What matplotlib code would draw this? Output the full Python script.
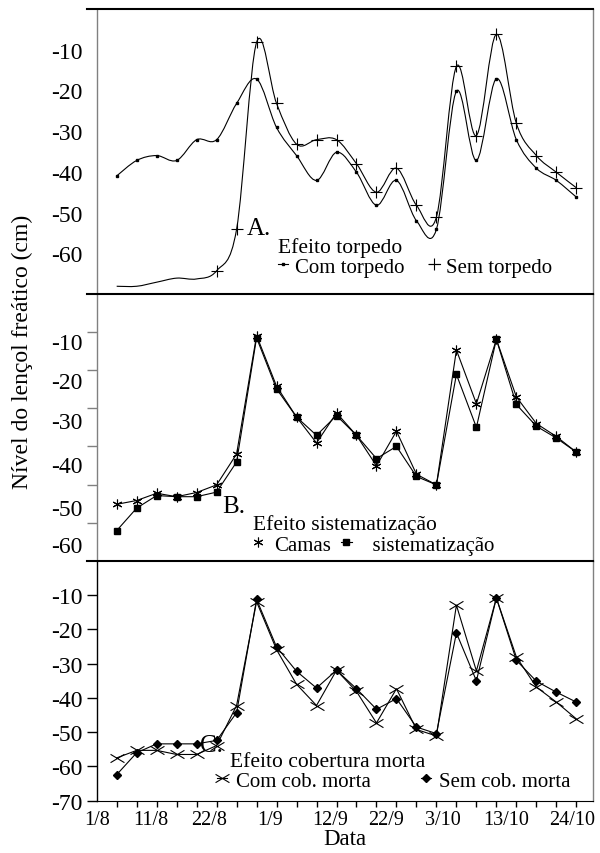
import numpy as np
import matplotlib.pyplot as plt
from matplotlib.path import Path
from matplotlib.patches import PathPatch
from matplotlib.lines import Line2D

plt.rcParams['font.family'] = ['Liberation Serif', 'DejaVu Serif']
plt.rcParams['axes.unicode_minus'] = False

# leituras (uma a cada ~3,6 dias), a partir de 1/8
leituras = np.arange(1, 25)
datas = ['1/8', '11/8', '22/8', '1/9', '12/9', '22/9', '3/10', '13/10', '24/10']
pos_datas = [0, 2.7, 5.6, 8.7, 11.7, 14.5, 17.3, 20.5, 23.8]

# A. efeito torpedo
com_torpedo = [-41.0, -37.2, -36.0, -37.2, -32.1, -32.1, -23.2, -17.2, -29.1, -36.0,
               -42.1, -35.2, -40.1, -48.2, -42.1, -52.0, -54.1, -20.2, -37.2, -17.1,
               -32.1, -39.1, -42.1, -46.2]
sem_torpedo = [-68.1, -68.1, -67.1, -66.1, -66.3, -64.3, -54.1, -8.2, -23.2, -33.2,
               -32.1, -32.1, -38.0, -45.0, -39.1, -48.2, -51.1, -14.1, -31.1, -6.2,
               -28.1, -36.0, -40.1, -43.9]

# B. efeito sistematizacao
camas = [-55.2, -54.2, -52.3, -53.2, -52.1, -50.1, -42.0, -10.9, -24.2, -32.3,
         -39.1, -31.2, -37.1, -45.1, -36.0, -47.3, -50.1, -14.7, -28.8, -11.9,
         -27.0, -34.0, -37.4, -41.5]
sistematizacao = [-62.1, -56.2, -52.9, -53.2, -53.2, -52.0, -44.1, -11.5, -24.9, -32.3,
                  -37.1, -31.9, -37.1, -43.2, -40.0, -47.9, -50.1, -21.1, -35.0, -11.9,
                  -29.0, -34.7, -37.8, -41.5]

# C. efeito cobertura morta
com_cob = [-57.5, -55.3, -55.3, -56.5, -56.5, -53.9, -42.2, -11.9, -25.9, -36.0,
           -42.2, -31.9, -38.1, -47.3, -37.3, -49.2, -51.1, -12.9, -32.1, -10.8,
           -28.0, -36.8, -41.2, -46.1]
sem_cob = [-62.4, -56.0, -53.4, -53.4, -53.4, -52.4, -44.3, -11.2, -25.1, -32.2,
           -37.1, -31.9, -37.3, -43.3, -40.2, -48.5, -50.4, -21.0, -35.0, -10.8,
           -29.0, -35.1, -38.3, -41.2]

yticks = [-10, -20, -30, -40, -50, -60]
# rotulos do painel B ficam um pouco abaixo das marcas no original
pos_rot_b = [-12.4, -22.6, -33.2, -44.5, -55.9, -65.5]

cinza = '#808080'
lw = 0.8


def curva_suave(ax, x, y):
    # linha suavizada (tipo Excel) com segmentos Bezier
    x = np.asarray(x, float)
    y = np.asarray(y, float)
    px = np.r_[x[0], x, x[-1]]
    py = np.r_[y[0], y, y[-1]]
    verts = [(x[0], y[0])]
    codes = [Path.MOVETO]
    for i in range(1, len(px) - 2):
        c1 = (px[i] + (px[i + 1] - px[i - 1]) / 6, py[i] + (py[i + 1] - py[i - 1]) / 6)
        c2 = (px[i + 1] - (px[i + 2] - px[i]) / 6, py[i + 1] - (py[i + 2] - py[i]) / 6)
        verts += [c1, c2, (px[i + 1], py[i + 1])]
        codes += [Path.CURVE4] * 3
    ax.add_patch(PathPatch(Path(verts, codes), fc='none', ec='k', lw=lw))


marcador_x = Path([(-1, -0.6), (1, 0.6), (-1, 0.6), (1, -0.6)],
                  [Path.MOVETO, Path.LINETO, Path.MOVETO, Path.LINETO])

fig = plt.figure(figsize=(6, 8.54), dpi=100)
W, H = 600, 854
esq, dir_ = 96.7, 593.3


def eixo(top, bot):
    return fig.add_axes([esq / W, 1 - bot / H, (dir_ - esq) / W, (bot - top) / H])


axA = eixo(10, 295)
axB = eixo(295, 561.7)
axC = eixo(562, 801.7)

for ax in (axA, axB, axC):
    ax.set_xlim(0, 24.85)
    ax.set_ylim(-70, 0)
    ax.spines['top'].set_visible(False)
    ax.spines['right'].set_color(cinza)
    ax.spines['right'].set_linewidth(1)
    ax.spines['left'].set_linewidth(1)

# painel A
curva_suave(axA, leituras, com_torpedo)
curva_suave(axA, leituras, sem_torpedo)
axA.plot(leituras, com_torpedo, ls='none', marker='s', ms=2, color='k')
axA.plot(leituras[5:], sem_torpedo[5:], ls='none', marker='+', ms=9, mew=0.8, color='k')
axA.spines['bottom'].set_visible(False)
axA.spines['left'].set_color(cinza)
axA.set_xticks([])
axA.set_yticks(yticks)
axA.tick_params(axis='y', length=0, pad=10, labelsize=17)

# painel B
axB.plot(leituras, camas, color='k', lw=lw, marker=(6, 2, 0), ms=7, mew=0.8)
axB.plot(leituras, sistematizacao, color='k', lw=lw, marker='s', ms=4.5)
axB.spines['bottom'].set_visible(False)
axB.spines['left'].set_color(cinza)
axB.set_xticks([])
axB.set_yticks(yticks, [''] * len(yticks))
axB.tick_params(axis='y', which='major', length=7, color=cinza, width=1)
axB.set_yticks(pos_rot_b, [str(v) for v in yticks], minor=True)
axB.tick_params(axis='y', which='minor', length=0, pad=10, labelsize=17)

# painel C
axC.plot(leituras, com_cob, color='k', lw=lw, marker=marcador_x, ms=10, mew=0.8)
axC.plot(leituras, sem_cob, color='k', lw=lw, marker='D', ms=4.5)
axC.set_yticks(yticks + [-70])
axC.tick_params(axis='y', length=7, width=1, pad=3, labelsize=17)
axC.set_xticks(np.arange(0, 25), minor=True)
axC.set_xticks(pos_datas, datas)
axC.tick_params(axis='x', which='minor', length=4, width=1)
axC.tick_params(axis='x', which='major', length=0, pad=7, labelsize=14.5)
axC.set_xlabel('Data', fontsize=16.5, labelpad=-1)

fig.text(22 / W, 1 - 352 / H, 'Nível do lençol freático (cm)', rotation=90,
         ha='center', va='center', fontsize=17)

# linhas horizontais grossas que separam os paineis
for y in (10, 295, 562):
    fig.add_artist(Line2D([87 / W, dir_ / W], [1 - y / H] * 2, color='k', lw=1.5))

# textos e legendas
def ftxt(x, y, s, size):
    fig.text(x / W, 1 - y / H, s, fontsize=size, ha='left', va='baseline')


ftxt(247, 235, 'A.', 18)
ftxt(278, 252.7, 'Efeito torpedo', 15.5)
ftxt(222, 513, 'B.', 18)
ftxt(253, 530, 'Efeito sistematização', 15.5)
ftxt(200, 752, 'C.', 18)
ftxt(230, 767, 'Efeito cobertura morta', 15.5)

legA = [Line2D([], [], color='k', lw=lw, marker='s', ms=2),
        Line2D([], [], color='k', lw=lw, marker='+', ms=9, mew=0.8)]
legB = [Line2D([], [], color='k', ls='none', marker=(6, 2, 0), ms=7, mew=0.8),
        Line2D([], [], color='k', lw=lw, marker='s', ms=4.5)]
legC = [Line2D([], [], color='k', lw=lw, marker=marcador_x, ms=10, mew=0.8),
        Line2D([], [], color='k', lw=lw, marker='D', ms=4.5)]

opts = dict(loc='upper left', ncol=2, frameon=False, borderpad=0, borderaxespad=0,
            handlelength=0.5, prop={'size': 15}, bbox_transform=fig.transFigure)
axA.legend(legA, ['Com torpedo', 'Sem torpedo'], bbox_to_anchor=(278 / W, 1 - 258 / H),
           handletextpad=0.3, columnspacing=1.2, **opts)
axB.legend(legB, ['Camas', '  sistematização'], bbox_to_anchor=(253 / W, 1 - 536 / H),
           handletextpad=0.5, columnspacing=0.5, **opts)
axC.legend(legC, ['Com cob. morta', 'Sem cob. morta'], bbox_to_anchor=(217 / W, 1 - 772 / H),
           handletextpad=0.4, columnspacing=2.4, **opts)

fig.savefig('out.png', dpi=100)
